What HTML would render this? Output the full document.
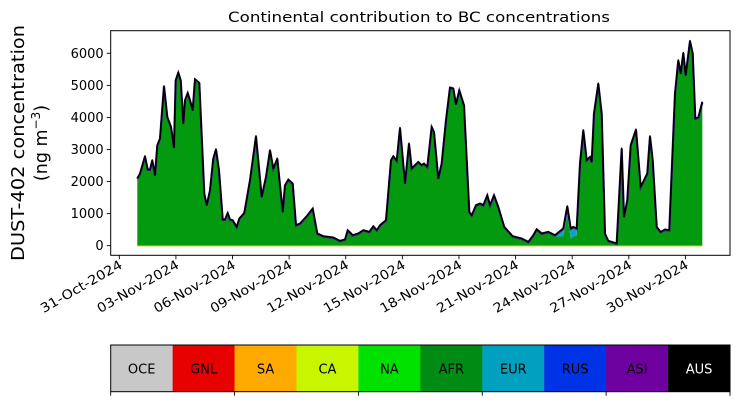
<!DOCTYPE html>
<html><head><meta charset="utf-8"><style>
html,body{margin:0;padding:0;background:#fff;}
svg{display:block;font-family:"DejaVu Sans","Liberation Sans",sans-serif;}
</style></head><body>
<svg id="chart" width="739" height="402" viewBox="0 0 739 402" xmlns="http://www.w3.org/2000/svg">
<text x="419" y="22" font-size="14" text-anchor="middle" textLength="382" lengthAdjust="spacingAndGlyphs">Continental contribution to BC concentrations</text>
<g font-size="17.5" text-anchor="middle">
<text transform="translate(24,143) rotate(-90)" textLength="236" lengthAdjust="spacingAndGlyphs">DUST-402 concentration</text>
<text transform="translate(47,143) rotate(-90)">(ng m<tspan font-size="12" dy="-7">−3</tspan><tspan dy="7">)</tspan></text>
</g>
<g id="plot"></g>
<g id="cbar"></g>
</svg>
<script>
const days = [0.954,1.097,1.362,1.505,1.627,1.749,1.892,2.014,2.157,2.369,2.544,2.740,2.899,2.989,3.127,3.254,3.392,3.482,3.625,3.747,3.890,4.012,4.240,4.504,4.632,4.807,4.981,5.124,5.283,5.480,5.601,5.745,5.866,6.010,6.221,6.359,6.624,6.926,7.244,7.546,7.774,7.986,8.161,8.373,8.659,8.781,8.956,9.189,9.364,9.576,9.931,10.249,10.493,10.811,11.341,11.696,11.961,12.104,12.369,12.666,12.931,13.249,13.461,13.641,13.816,14.134,14.399,14.520,14.701,14.876,15.141,15.353,15.496,15.845,16.025,16.147,16.322,16.555,16.677,16.905,17.085,17.313,17.525,17.700,17.843,18.018,18.267,18.548,18.675,18.903,19.115,19.290,19.502,19.645,19.857,20.085,20.403,20.848,21.325,21.675,21.940,22.120,22.385,22.735,23.090,23.529,23.741,23.922,24.059,24.240,24.415,24.590,24.770,24.944,25.034,25.156,25.384,25.564,25.739,25.914,26.359,26.624,26.746,26.921,27.101,27.382,27.631,27.981,28.124,28.267,28.479,28.691,28.919,29.147,29.449,29.624,29.751,29.889,30.016,30.244,30.387,30.525,30.684,30.896];
const totals = [2102,2258,2797,2382,2382,2672,2205,3140,3349,4980,4022,3711,3068,5167,5407,5167,3817,4543,4771,4543,4231,5198,5083,1634,1269,1737,2725,3015,2360,823,823,1029,823,801,592,854,1029,2049,3421,1528,2152,2984,2413,2725,1060,1893,2070,1946,645,698,926,1166,387,302,262,156,200,490,334,387,490,437,614,490,645,801,2672,2797,2650,3679,1946,3193,2413,2619,2516,2569,2463,3711,3555,2102,2569,3920,4939,4908,4418,4855,4387,1060,957,1269,1322,1269,1581,1269,1581,1216,592,302,231,125,334,521,387,437,334,543,1238,543,592,543,2569,3608,2672,2775,2619,4128,5064,4128,387,156,75,3037,904,1425,3140,3630,1840,2258,3421,2672,592,437,511,490,4752,5790,5376,6018,5323,6392,5999,3973,4004,4490];
const eurDays = [23.0,23.45,23.741,23.922,24.059,24.24,24.415];
const eurVals = [0,250,280,330,300,220,0];
const yTicks = [0,1000,2000,3000,4000,5000,6000];
const xTickDays = [0,3,6,9,12,15,18,21,24,27,30];
const xTickLabels = ["31-Oct-2024","03-Nov-2024","06-Nov-2024","09-Nov-2024","12-Nov-2024","15-Nov-2024","18-Nov-2024","21-Nov-2024","24-Nov-2024","27-Nov-2024","30-Nov-2024"];
const regions = ["OCE","GNL","SA","CA","NA","AFR","EUR","RUS","ASI","AUS"];
const regionColors = ["#c8c8c8","#e60000","#ffaa00","#c8f500","#00e100","#008c14","#00a0be","#0032e6","#6e00a0","#000000"];

const NS="http://www.w3.org/2000/svg";
const L=110.7,R=730,T=30.7,B=255.3;
const xs=d=>119.3+d*18.87;
const ys=v=>245.7-v*0.03207;
function mk(tag,attrs,parent){const e=document.createElementNS(NS,tag);for(const k in attrs)e.setAttribute(k,attrs[k]);parent.appendChild(e);return e;}
function eurAt(d){
  if(d<=eurDays[0]||d>=eurDays[eurDays.length-1])return 0;
  for(let i=1;i<eurDays.length;i++){if(d<=eurDays[i]){const f=(d-eurDays[i-1])/(eurDays[i]-eurDays[i-1]);return eurVals[i-1]+f*(eurVals[i]-eurVals[i-1]);}}
  return 0;
}
const eur=days.map((d,i)=>Math.min(eurAt(d),totals[i]*0.6));
const plot=document.getElementById('plot');

let p='M'+xs(days[0])+','+ys(0);
days.forEach((d,i)=>{p+=' L'+xs(d).toFixed(2)+','+ys(totals[i]-eur[i]).toFixed(2);});
p+=' L'+xs(days[days.length-1])+','+ys(0)+' Z';
const afr=mk('path',{d:p,fill:'#039a10',stroke:'none'},plot);



let pe='';
days.forEach((d,i)=>{pe+=(i?' L':'M')+xs(d).toFixed(2)+','+ys(totals[i]).toFixed(2);});
for(let i=days.length-1;i>=0;i--){pe+=' L'+xs(days[i]).toFixed(2)+','+ys(totals[i]-eur[i]).toFixed(2);}
pe+=' Z';
const eurA=mk('path',{d:pe,fill:'#13a2c0',stroke:'none'},plot);



const ca=mk('line',{x1:xs(days[0]),x2:xs(days[days.length-1]),y1:ys(0)+0.2,y2:ys(0)+0.2,stroke:'#b8c800','stroke-width':1},plot);



let pl='';
days.forEach((d,i)=>{pl+=(i?' L':'M')+xs(d).toFixed(2)+','+ys(totals[i]).toFixed(2);});
const asi=mk('path',{d:pl,fill:'none',stroke:'#3a1a80','stroke-width':2.2,transform:'translate(0,0.6)'},plot);


const tl=mk('path',{d:pl,fill:'none',stroke:'#000','stroke-width':1.6,'stroke-linejoin':'round'},plot);



const fr=mk('rect',{x:L,y:T,width:R-L,height:B-T,fill:'none',stroke:'#000','stroke-width':1},plot);



yTicks.forEach(v=>{
  const y=ys(v);
  const t=mk('line',{x1:L-4,x2:L,y1:y,y2:y,stroke:'#000','stroke-width':0.9},plot);
  
  
  const tx=mk('text',{x:L-7,y:y+4.5,'font-size':13,'text-anchor':'end'},plot);
  tx.textContent=v;
  
  
});
xTickDays.forEach((d,i)=>{
  const x=xs(d);
  const t=mk('line',{x1:x,x2:x,y1:B,y2:B+4,stroke:'#000','stroke-width':0.9},plot);
  
  
  const tx=mk('text',{x:0,y:0,'font-size':13,'text-anchor':'end',textLength:92,lengthAdjust:'spacingAndGlyphs',transform:`translate(${x+4},${B+12}) rotate(-30)`},plot);
  tx.textContent=xTickLabels[i];
  
  
});

const cb=document.getElementById('cbar');
const cT=345,cB=391.7,w=(R-L)/regions.length;
regions.forEach((r,i)=>{
  const rc=mk('rect',{x:L+i*w,y:cT,width:w+0.3,height:cB-cT,fill:regionColors[i]},cb);
  
  
  const tx=mk('text',{x:L+i*w+w/2,y:(cT+cB)/2+5,'font-size':13,'text-anchor':'middle',fill:r==='AUS'?'#fff':'#000'},cb);
  tx.textContent=r;
  
  
});
const cf=mk('rect',{x:L,y:cT,width:R-L,height:cB-cT,fill:'none',stroke:'#000','stroke-width':1},cb);


for(let k=0;k<=5;k++){
  const x=L+k*2*w;
  const t=mk('line',{x1:x,x2:x,y1:cB,y2:cB+4,stroke:'#000','stroke-width':0.9},cb);
  
  
}
</script>
</body></html>
